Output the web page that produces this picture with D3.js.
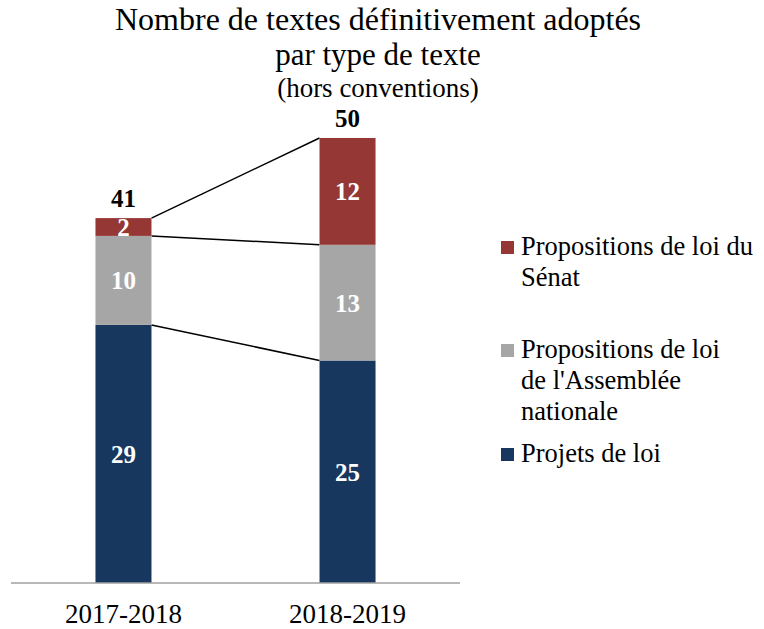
<!DOCTYPE html>
<html><head><meta charset="utf-8">
<script src="https://cdn.jsdelivr.net/npm/d3@7"></script>
<style>body{margin:0;background:#fff}svg{display:block}text{font-family:"Liberation Serif","Times New Roman",serif}</style>
</head><body>
<svg id="c" width="764" height="629"></svg>
<script>
const categories = ["2017-2018", "2018-2019"];
const seriesNames = ["Projets de loi", "Propositions de loi de l'Assemblée nationale", "Propositions de loi du Sénat"];
const projets = [29, 25];
const propAN = [10, 13];
const propSenat = [2, 12];
const totals = [41, 50];
const colors = ["#17375e", "#a6a6a6", "#953735"];

const svg = d3.select("#c");
const baseY = 583;
const x = d3.scaleBand().domain(categories).range([11, 460]).paddingInner(0.75).paddingOuter(0.377);
const y = d3.scaleLinear().domain([0, 50]).range([baseY, 138]);

const data = categories.map((c, i) => ({cat: c, v: [projets[i], propAN[i], propSenat[i]]}));
const stack = d3.stack().keys([0,1,2]).value((d,k) => d.v[k]);
const layers = stack(data);

// connector lines
for (let k = 0; k < layers.length; k++) {
  const a = layers[k][0], b = layers[k][1];
  svg.append("line")
    .attr("x1", x(categories[0]) + x.bandwidth()).attr("y1", y(a[1]))
    .attr("x2", x(categories[1])).attr("y2", y(b[1]))
    .attr("stroke", "#000").attr("stroke-width", 1.5);
}

layers.forEach((layer, k) => {
  svg.append("g").selectAll("rect").data(layer).join("rect")
    .attr("x", d => x(d.data.cat)).attr("width", x.bandwidth())
    .attr("y", d => y(d[1])).attr("height", d => y(d[0]) - y(d[1]))
    .attr("fill", colors[k]);
  svg.append("g").selectAll("text").data(layer).join("text")
    .attr("x", d => x(d.data.cat) + x.bandwidth()/2)
    .attr("y", d => (y(d[0]) + y(d[1]))/2 + 9)
    .attr("text-anchor", "middle").attr("fill", "#fff")
    .attr("font-weight", "bold").attr("font-size", 25)
    .text(d => d.data.v[k]);
});

// totals
svg.append("g").selectAll("text").data(categories).join("text")
  .attr("x", c => x(c) + x.bandwidth()/2)
  .attr("y", (c, i) => y(totals[i]) - 11)
  .attr("text-anchor", "middle").attr("font-weight", "bold").attr("font-size", 25)
  .text((c, i) => totals[i]);

// axis
const ax = svg.append("g").attr("transform", `translate(0,${baseY})`)
  .call(d3.axisBottom(x).tickSize(0).tickPadding(0));
ax.select(".domain").attr("stroke", "#a0a0a0").attr("stroke-width", 1.5).attr("d", "M11,0H460");
ax.selectAll("text").attr("font-size", 27).attr("fill", "#000").attr("dy", null).attr("y", 40)
  .attr("font-family", '"Liberation Serif","Times New Roman",serif');

// title
const t = svg.append("g").attr("text-anchor", "middle");
t.append("text").attr("x", 378).attr("y", 30).attr("font-size", 32).text("Nombre de textes définitivement adoptés");
t.append("text").attr("x", 378).attr("y", 65).attr("font-size", 31).text("par type de texte");
t.append("text").attr("x", 378).attr("y", 97).attr("font-size", 27).text("(hors conventions)");

// legend
const legendItems = [
  {k: 2, lines: ["Propositions de loi du", "Sénat"], y0: 255},
  {k: 1, lines: ["Propositions de loi", "de l'Assemblée", "nationale"], y0: 358},
  {k: 0, lines: ["Projets de loi"], y0: 462}
];
const lg = svg.append("g");
legendItems.forEach(it => {
  lg.append("rect").attr("x", 501).attr("y", it.y0 - 14).attr("width", 13).attr("height", 13).attr("fill", colors[it.k]);
  const tx = lg.append("text").attr("font-size", 26.5);
  it.lines.forEach((l, j) => tx.append("tspan").attr("x", 521).attr("y", it.y0 + j*31).text(l));
});
</script>
</body></html>
